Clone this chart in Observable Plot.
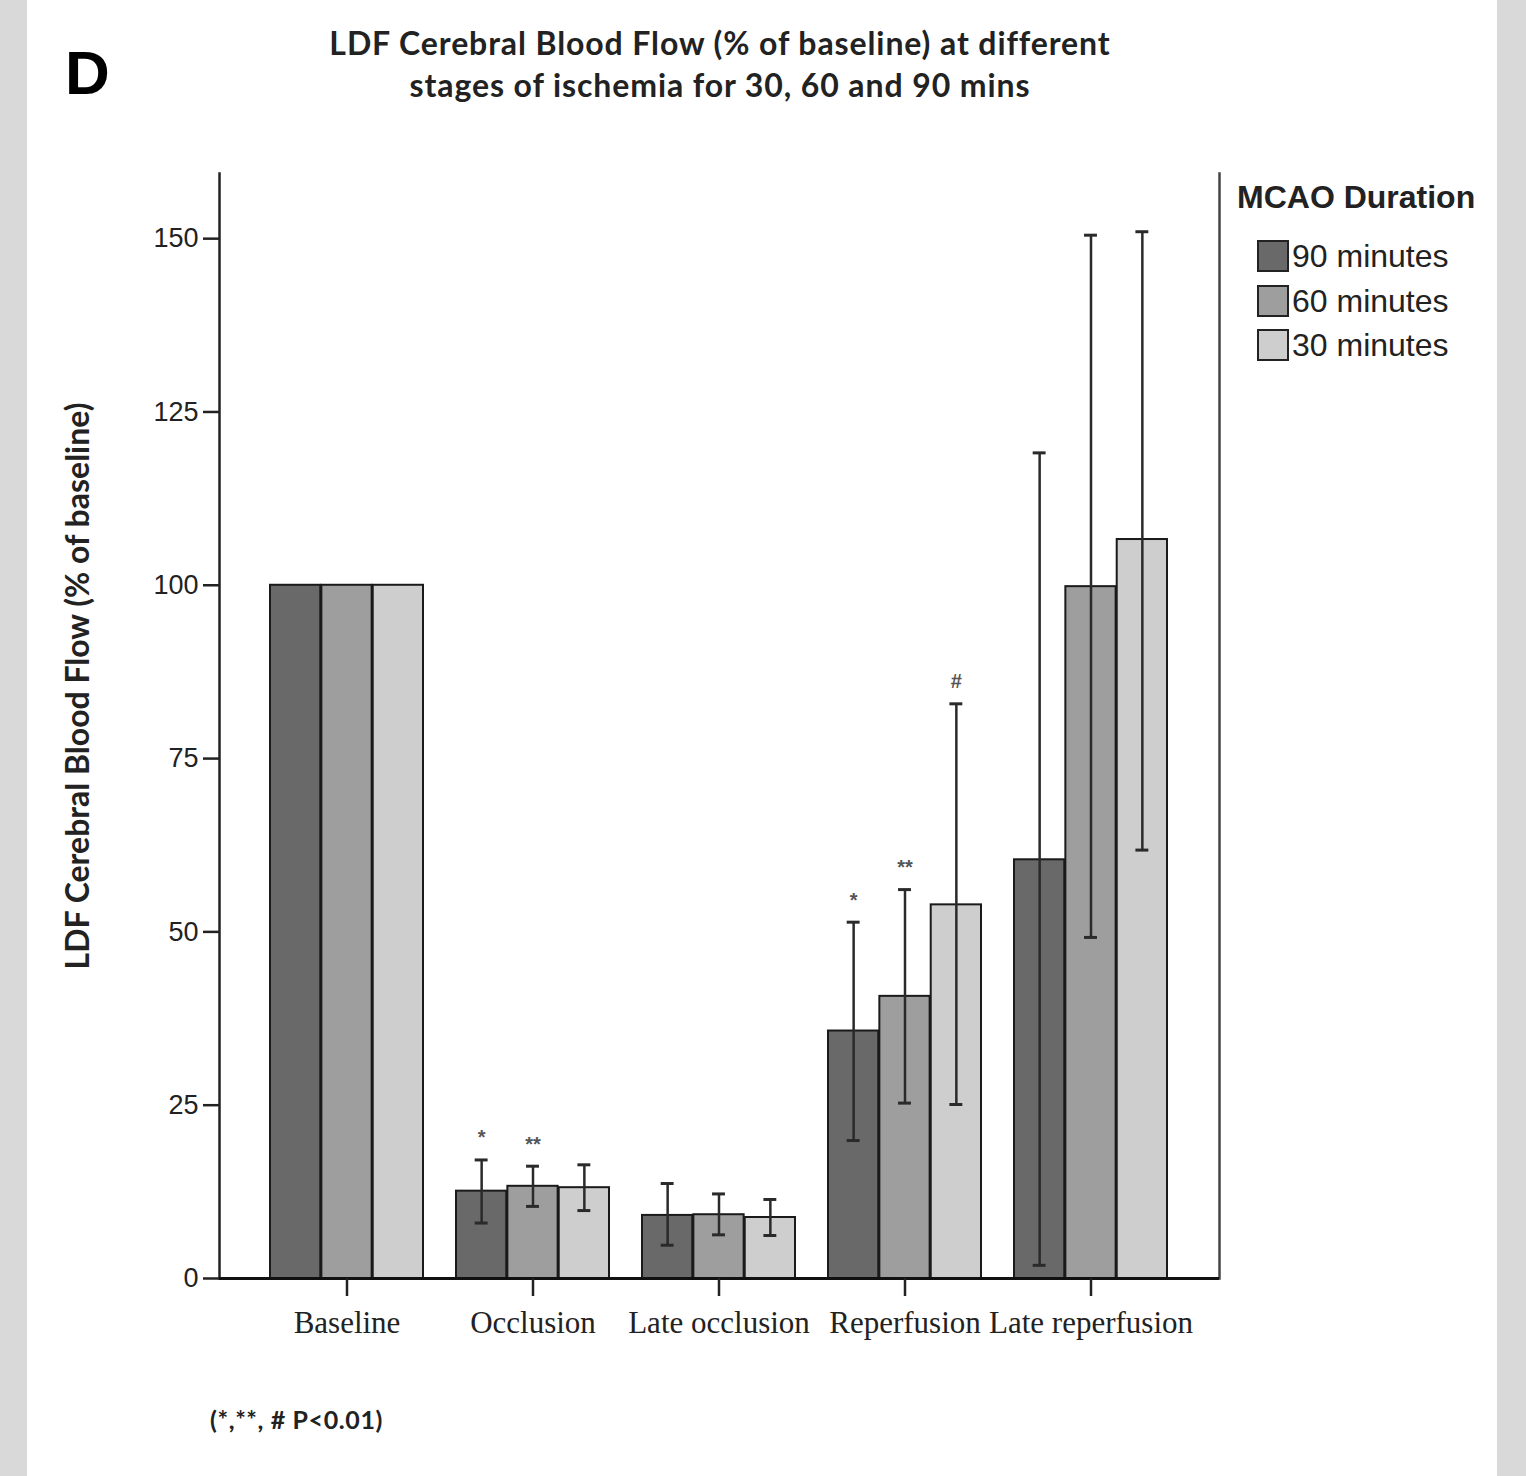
<!DOCTYPE html>
<html>
<head>
<meta charset="utf-8">
<script src="https://cdn.jsdelivr.net/npm/d3@7"></script>
<script src="https://cdn.jsdelivr.net/npm/@observablehq/plot@0.6"></script>
<style>
  html, body { margin: 0; padding: 0; }
  body { width: 1526px; height: 1476px; background: #d9d9d9; overflow: hidden; }
  #panel { position: absolute; left: 27px; top: 0; width: 1470px; height: 1476px; background: #ffffff; }
  .abs { position: absolute; white-space: nowrap; }
  #letter { left: 38px; top: 42px; font: bold 62px "Liberation Sans", Arial, sans-serif; line-height: 1; color: #000; }
  #title { left: 293px; top: 22px; width: 800px; text-align: center; font: bold 32px Lato, "Open Sans", sans-serif; letter-spacing: 0.9px; line-height: 42px; color: #222; }
  #chart { position: absolute; left: 0; top: 150px; }
  #legend-title { left: 1210px; top: 178px; font: bold 32px "Liberation Sans", Arial, sans-serif; line-height: 38px; color: #222; }
  .leg-item { position: absolute; left: 1230px; height: 32px; display: flex; align-items: center; font: 32px "Liberation Sans", Arial, sans-serif; color: #222; }
  .leg-swatch { width: 28px; height: 28px; border: 2px solid #222; margin-right: 3px; }
  #note { left: 183px; top: 1404px; font: bold 25px Lato, "Open Sans", sans-serif; letter-spacing: 0.6px; color: #222; }
</style>
</head>
<body>
<div id="panel">
  <div id="letter" class="abs">D</div>
  <div id="title" class="abs"></div>
  <div id="chart"></div>
  <div id="legend-title" class="abs"></div>
  <div id="legend"></div>
  <div id="note" class="abs"></div>
</div>
<script>
// ---------------- data ----------------
const titleLines = ["LDF Cerebral Blood Flow (% of baseline) at different", "stages of ischemia for 30, 60 and 90 mins"];
const yLabel = "LDF Cerebral Blood Flow (% of baseline)";
const legendTitle = "MCAO Duration";
const footnote = "(*,**, # P<0.01)";

const categories = ["Baseline", "Occlusion", "Late occlusion", "Reperfusion", "Late reperfusion"];
const series = ["90 minutes", "60 minutes", "30 minutes"];
const seriesColors = ["#696969", "#9e9e9e", "#cecece"];

const mean90 = [100, 12.6, 9.1, 35.7, 60.4];
const mean60 = [100, 13.3, 9.2, 40.7, 99.8];
const mean30 = [100, 13.1, 8.8, 53.9, 106.6];

const upper90 = [null, 17.1, 13.7, 51.4, 119.1];
const lower90 = [null, 8.0, 4.8, 19.9, 1.9];
const upper60 = [null, 16.2, 12.2, 56.1, 150.5];
const lower60 = [null, 10.4, 6.3, 25.3, 49.2];
const upper30 = [null, 16.4, 11.4, 82.9, 151.0];
const lower30 = [null, 9.8, 6.2, 25.1, 61.8];

const notes90 = ["", "*", "", "*", ""];
const notes60 = ["", "**", "", "**", ""];
const notes30 = ["", "", "", "#", ""];

const yTicks = [0, 25, 50, 75, 100, 125, 150];
const yMax = 159.4;

// ---------------- table ----------------
const means = [mean90, mean60, mean30];
const uppers = [upper90, upper60, upper30];
const lowers = [lower90, lower60, lower30];
const notes = [notes90, notes60, notes30];
const rows = [];
series.forEach((s, k) => {
  categories.forEach((c, i) => {
    rows.push({cat: c, series: s, k, value: means[k][i], hi: uppers[k][i], lo: lowers[k][i], note: notes[k][i]});
  });
});

// ---------------- layout ----------------
const W = 1470, H = 1230;
const mLeft = 192, mRight = 278, mTop = 23, mBottom = 102;
const padIn = 0.176, padOut = 0.262;
const band = d3.scaleBand().domain(categories).range([mLeft, W - mRight]).paddingInner(padIn).paddingOuter(padOut);
const bw = band.bandwidth();
const sub = bw / series.length;
const capW = 14;

const marks = [];
series.forEach((s, k) => {
  const off = (k - (series.length - 1) / 2) * sub;
  const data = rows.filter(d => d.k === k);
  const err = data.filter(d => d.hi != null);
  marks.push(Plot.barY(data, {x: "cat", y: "value", fill: "series", stroke: "#1a1a1a", strokeWidth: 2,
    insetLeft: (bw - sub) / 2, insetRight: (bw - sub) / 2, dx: off}));
  marks.push(Plot.ruleX(err, {x: "cat", y1: "lo", y2: "hi", dx: off, stroke: "#2a2a2a", strokeWidth: 2.5}));
  marks.push(Plot.tickY(err, {x: "cat", y: "hi", dx: off, stroke: "#2a2a2a", strokeWidth: 3,
    insetLeft: (bw - capW) / 2, insetRight: (bw - capW) / 2}));
  marks.push(Plot.tickY(err, {x: "cat", y: "lo", dx: off, stroke: "#2a2a2a", strokeWidth: 3,
    insetLeft: (bw - capW) / 2, insetRight: (bw - capW) / 2}));
  marks.push(Plot.text(data.filter(d => d.note), {x: "cat", y: "hi", text: "note", dx: off, dy: -22,
    fontSize: 20, fontWeight: "bold", fill: "#555"}));
});

const chart = Plot.plot({
  width: W, height: H,
  marginLeft: mLeft, marginRight: mRight, marginTop: mTop, marginBottom: mBottom,
  style: {fontFamily: "'Liberation Sans', Arial, sans-serif", fontSize: "26px", color: "#222", background: "transparent"},
  x: {type: "band", domain: categories, paddingInner: padIn, paddingOuter: padOut, axis: null},
  y: {domain: [0, yMax], axis: null},
  color: {domain: series, range: seriesColors},
  marks: [
    ...marks,
    Plot.frame({anchor: "left", stroke: "#222", strokeWidth: 2.5}),
    Plot.frame({anchor: "right", stroke: "#444", strokeWidth: 2.5}),
    Plot.ruleY([0], {stroke: "#111", strokeWidth: 3}),
    Plot.axisY({ticks: yTicks, tickSize: 16, tickPadding: 5, tickFormat: d => String(d), fontSize: 27, label: null, strokeWidth: 2.5}),
    Plot.axisX({tickSize: 18, tickPadding: 14, fontSize: 31, fontFamily: "'Liberation Serif', 'DejaVu Serif', serif", label: null, strokeWidth: 2.5}),
    Plot.text([yLabel], {frameAnchor: "left", textAnchor: "middle", rotate: -90, dx: -141, dy: -40, text: d => d,
      fontSize: 32, fontWeight: "bold", fontFamily: "Lato, 'Open Sans', sans-serif", fill: "#222"})
  ]
});
document.getElementById("chart").appendChild(chart);

// ---------------- texts & legend ----------------
document.getElementById("title").innerHTML = titleLines.join("<br>");
document.getElementById("legend-title").textContent = legendTitle;
document.getElementById("note").textContent = footnote;
const legendTops = [240, 285, 329];
const leg = document.getElementById("legend");
series.forEach((s, k) => {
  const item = document.createElement("div");
  item.className = "leg-item";
  item.style.top = legendTops[k] + "px";
  const sw = document.createElement("div");
  sw.className = "leg-swatch";
  sw.style.background = seriesColors[k];
  const t = document.createElement("span");
  t.textContent = s;
  item.appendChild(sw); item.appendChild(t);
  leg.appendChild(item);
});
</script>
</body>
</html>
